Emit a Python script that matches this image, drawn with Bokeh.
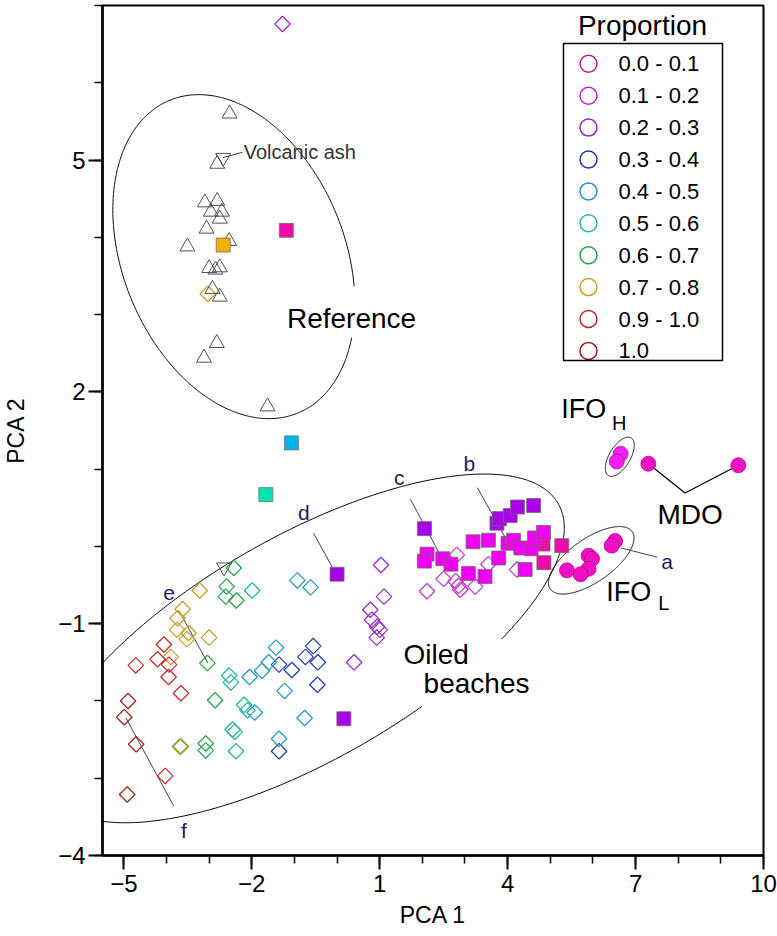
import numpy as np
from bokeh.plotting import figure
from bokeh.models import Range1d, FixedTicker, BoxAnnotation
from bokeh.core.properties import value
from bokeh.embed import file_html
from bokeh.resources import INLINE

# ---------------- data ----------------
x_major = [-5, -2, 1, 4, 7, 10]
x_minor = list(range(-5, 11))
y_major = [-4, -1, 2, 5]
y_minor = list(range(-4, 8))

legend_labels = ["0.0 - 0.1", "0.1 - 0.2", "0.2 - 0.3", "0.3 - 0.4", "0.4 - 0.5",
                 "0.5 - 0.6", "0.6 - 0.7", "0.7 - 0.8", "0.9 - 1.0", "1.0"]
legend_colors = ["#C8108C", "#C020C8", "#9428C4", "#2434A4", "#2494C4",
                 "#24BCA4", "#24A444", "#CCA024", "#C42424", "#A01C1C"]

# open diamonds (oiled beach samples), by proportion class
dia_01_x = [2.81, 3.55, 4.22, 2.50, 2.78, 2.85, 2.89, 3.24, 2.11]
dia_01_y = [-0.11, -0.23, -0.30, -0.42, -0.45, -0.51, -0.56, -0.52, -0.58]
dia_02_x = [-1.28, 1.03, 1.10, 0.78, 0.82, 0.94, 1.00, 0.93, 0.40]
dia_02_y = [6.76, -0.24, -0.65, -0.82, -0.95, -1.04, -1.08, -1.18, -1.50]
dia_03_x = [-0.56, -0.74, -0.45, -1.36, -1.06, -0.46, -1.36]
dia_03_y = [-1.29, -1.43, -1.50, -1.53, -1.60, -1.79, -2.65]
dia_04_x = [-0.93, -0.62, -1.43, -1.60, -1.76, -2.05, -1.23, -0.76, -1.36, -1.93]
dia_04_y = [-0.44, -0.53, -1.31, -1.50, -1.61, -1.69, -1.87, -2.22, -2.49, -2.15]
dia_05_x = [-1.99, -2.53, -2.49, -2.18, -2.10, -2.45, -2.40, -2.37]
dia_05_y = [-0.57, -1.67, -1.76, -2.05, -2.12, -2.37, -2.40, -2.65]
dia_06_x = [-2.42, -2.59, -2.61, -2.36, -3.04, -2.86, -3.68, -3.08, -3.08]
dia_06_y = [-0.28, -0.52, -0.65, -0.70, -1.51, -1.99, -2.59, -2.55, -2.64]
dia_07_x = [-3.03, -3.22, -3.62, -3.74, -3.75, -3.48, -3.52, -3.00, -3.90, -3.66]
dia_07_y = [3.27, -0.57, -0.81, -0.93, -1.08, -1.12, -1.20, -1.18, -1.43, -2.59]
dia_09_x = [-4.06, -4.21, -3.94, -4.72, -3.95, -3.66, -4.03]
dia_09_y = [-1.27, -1.46, -1.53, -1.54, -1.69, -1.90, -2.97]
dia_10_x = [-4.90, -4.99, -4.71, -4.92]
dia_10_y = [-2.00, -2.21, -2.56, -3.21]

# filled squares
sq_00_x = [4.83, 5.27, 4.85, -1.19]
sq_00_y = [0.03, 0.01, -0.21, 4.09]
sq_01_x = [2.11, 2.05, 2.48, 2.67, 3.19, 3.55, 4.01, 4.14, 4.31, 4.55, 4.63, 4.84, 3.79, 3.47, 3.08, 4.41]
sq_01_y = [-0.10, -0.19, -0.16, -0.23, 0.06, 0.08, 0.04, 0.08, -0.02, -0.03, 0.11, 0.18, -0.15, -0.39, -0.35, -0.30]
sq_02_x = [2.05, 3.75, 3.81, 4.06, 4.23, 4.61, 0.00, 0.16]
sq_02_y = [0.23, 0.30, 0.36, 0.40, 0.51, 0.53, -0.36, -2.23]
sq_04_x = [-1.07]
sq_04_y = [1.34]
sq_05_x = [-1.67]
sq_05_y = [0.67]
sq_07_x = [-2.67]
sq_07_y = [3.90]

# filled circles (fuel oils)
ifo_l_x = [6.52, 6.44, 5.90, 5.98, 5.90, 5.71, 5.39]
ifo_l_y = [0.07, 0.01, -0.12, -0.16, -0.29, -0.36, -0.31]
ifo_h_x = [6.65, 6.56]
ifo_h_y = [1.20, 1.10]
mdo_x = [7.30, 9.41]
mdo_y = [1.07, 1.05]

# reference samples (triangles) and volcanic ash (inverted triangles)
ref_x = [-2.52, -2.81, -3.10, -2.81, -2.96, -2.70, -2.75, -3.06, -3.51, -2.53,
         -3.00, -2.75, -2.85, -2.92, -2.75, -2.82, -3.12, -1.63]
ref_y = [5.60, 4.95, 4.45, 4.47, 4.33, 4.33, 4.24, 4.11, 3.88, 3.95,
         3.60, 3.61, 3.58, 3.33, 3.23, 2.63, 2.44, 1.81]
ash_x = [-2.67, -2.65]
ash_y = [5.03, -0.27]

# ---------------- geometry ----------------
X0, X1, Y0, Y1 = -5.5, 10.0, -4.0, 7.0
FW, FH = 661, 850
SX = FW / (X1 - X0)
SY = FH / (Y1 - Y0)
FL, FT = 102, 5   # position of frame's left/top edge on the canvas


def px2x(px):
    return X0 + (px - FL) / SX


def py2y(py):
    return Y1 - (py - FT) / SY


def ellipse(cx, cy, a, b, ang, gap=None):
    t = np.linspace(-np.pi, np.pi, 721)
    phi = np.radians(ang)
    dx = a * np.cos(t) * np.cos(phi) - b * np.sin(t) * np.sin(phi)
    dy = a * np.cos(t) * np.sin(phi) + b * np.sin(t) * np.cos(phi)
    xs = cx + dx / SX
    ys = cy + dy / SY
    if gap is not None:
        td = np.degrees(t)
        m = (td > gap[0]) & (td < gap[1])
        xs = np.where(m, np.nan, xs)
        ys = np.where(m, np.nan, ys)
    return xs, ys


p = figure(frame_width=FW, frame_height=FH,
           x_range=Range1d(X0, X1), y_range=Range1d(Y0, Y1),
           output_backend="svg", toolbar_location=None,
           min_border_left=FL, min_border_right=14,
           min_border_top=FT, min_border_bottom=60)
p.xgrid.visible = False
p.ygrid.visible = False
p.outline_line_color = "black"
p.outline_line_width = 2
p.outline_line_alpha = 1

SANS = "Liberation Sans"

for ax, maj, mnr, lab in ((p.xaxis[0], x_major, x_minor, "PCA 1"),
                          (p.yaxis[0], y_major, y_minor, "PCA 2")):
    ax.ticker = FixedTicker(ticks=maj, minor_ticks=mnr)
    ax.axis_label = lab
    ax.axis_line_width = 2.5
    ax.axis_line_color = "black"
    ax.major_tick_line_width = 2
    ax.minor_tick_line_width = 1.5
    ax.major_tick_out = 14
    ax.major_tick_in = 0
    ax.minor_tick_out = 8
    ax.minor_tick_in = 0
    ax.major_label_text_font = SANS
    ax.major_label_text_font_size = "24px"
    ax.major_label_text_color = "black"
    ax.axis_label_text_font = SANS
    ax.axis_label_text_font_size = "23px"
    ax.axis_label_text_font_style = "normal"
    ax.axis_label_text_color = "black"
p.xaxis.major_label_standoff = 5
p.xaxis.axis_label_standoff = 7
p.yaxis.major_label_standoff = 3
p.yaxis.axis_label_standoff = 26

# ---------------- enclosing ellipses ----------------
ell_kw = dict(line_color="black", line_width=1)
ex, ey = ellipse(-2.42, 3.75, 169, 111, -67.8, gap=(45, 64))
p.line(ex, ey, **ell_kw)
ex, ey = ellipse(-0.76, -1.32, 292, 112, 29.7, gap=(-75.5, -53))
p.line(ex, ey, **ell_kw)
ex, ey = ellipse(6.63, 1.16, 22, 10.5, 59)
p.line(ex, ey, **ell_kw)
ex, ey = ellipse(5.96, -0.18, 50, 21.7, 35)
p.line(ex, ey, **ell_kw)

# leader lines
lead_kw = dict(line_color="#444444", line_width=1)
leaders = [((3.29, 3.95), (0.76, 0.11)), ((1.72, 2.40), (0.61, -0.09)),
           ((-0.55, -0.11), (0.17, -0.27)), ((-3.71, -3.03), (-0.83, -1.51)),
           ((-4.95, -3.83), (-2.22, -3.36)), ((6.66, 7.51), (-0.02, -0.14)),
           ((-2.68, -2.22), (5.03, 5.10))]
for lx, ly in leaders:
    p.line(list(lx), list(ly), **lead_kw)
p.line([mdo_x[0], 8.16, mdo_x[1]], [mdo_y[0], 0.69, mdo_y[1]], line_color="black", line_width=1.2)

# ---------------- diamonds ----------------
dia_sets = [(dia_01_x, dia_01_y, "#C43CC8"), (dia_02_x, dia_02_y, "#9A30C8"),
            (dia_03_x, dia_03_y, "#2840B0"), (dia_04_x, dia_04_y, "#2898C8"),
            (dia_05_x, dia_05_y, "#28B8A0"), (dia_06_x, dia_06_y, "#28A848"),
            (dia_07_x, dia_07_y, "#C8A030"), (dia_09_x, dia_09_y, "#C83030"),
            (dia_10_x, dia_10_y, "#A02828")]
for xs, ys, c in dia_sets:
    p.scatter(xs, ys, marker="square", size=11, angle=np.pi / 4,
              fill_color=None, line_color=c, line_width=1.3)

# triangles
p.scatter(ref_x, ref_y, marker="triangle", size=15, fill_color=None,
          line_color="#505050", line_width=1)
p.scatter(ash_x, ash_y, marker="inverted_triangle", size=15, fill_color=None,
          line_color="#505050", line_width=1)

# squares
sq_sets = [(sq_00_x, sq_00_y, "#EC0CA8"), (sq_01_x, sq_01_y, "#F000F0"),
           (sq_02_x, sq_02_y, "#A800E8"), (sq_04_x, sq_04_y, "#00B4F0"),
           (sq_05_x, sq_05_y, "#00E4B4"), (sq_07_x, sq_07_y, "#F4B000")]
for xs, ys, c in sq_sets:
    p.scatter(xs, ys, marker="square", size=14, fill_color=c,
              line_color="#707070", line_width=0.8)

# circles
p.scatter(ifo_l_x + mdo_x, ifo_l_y + mdo_y, marker="circle", size=15,
          fill_color="#F010C4", line_color="#B0088C", line_width=0.8)
p.scatter(ifo_h_x, ifo_h_y, marker="circle", size=15,
          fill_color="#F020F0", line_color="#B010B0", line_width=0.8)

# ---------------- text annotations ----------------
def txt(x, y, s, size, font=SANS, color="black", align="left"):
    p.text([x], [y], text=[s], text_font=value(font), text_font_size=size,
           text_color=color, text_align=align, text_baseline="middle")


txt(-2.19, 5.11, "Volcanic ash", "20px", color="#333333")
txt(0.34, 2.95, "Reference", "28px", align="center")
txt(1.56, -1.40, "Oiled", "28px")
txt(2.03, -1.78, "beaches", "28px")
txt(8.28, 0.41, "MDO", "28px", align="center")
txt(5.26, 1.78, "IFO", "27px")
txt(6.45, 1.60, "H", "20px")
txt(6.31, -0.59, "IFO", "27px")
txt(7.53, -0.73, "L", "20px")
navy = "#1B1B5E"
for lx, ly, s in [(7.74, -0.20, "a"), (3.10, 1.07, "b"), (1.46, 0.89, "c"),
                  (-0.78, 0.44, "d"), (-3.94, -0.60, "e"), (-3.59, -3.68, "f")]:
    txt(lx, ly, s, "21px", color=navy, align="center")

# ---------------- legend (drawn at fixed canvas positions) ----------------
row_py = [63.3 + i * 31.9 for i in range(len(legend_labels))]
p.scatter([px2x(588)] * len(row_py), [py2y(v) for v in row_py], marker="circle",
          size=17, fill_color=None, line_color=legend_colors, line_width=1.5)
p.text([px2x(618)] * len(row_py), [py2y(v) for v in row_py], text=legend_labels,
       text_font=value(SANS), text_font_size="22px", text_color="black",
       text_align="left", text_baseline="middle")
p.add_layout(BoxAnnotation(left=px2x(563), right=px2x(722), top=py2y(43),
                           bottom=py2y(360), fill_alpha=0, line_color="black",
                           line_width=1.5, line_alpha=1))
txt(px2x(642), py2y(25), "Proportion", "28px", align="center")

open("out.html", "w").write(file_html(p, INLINE))
